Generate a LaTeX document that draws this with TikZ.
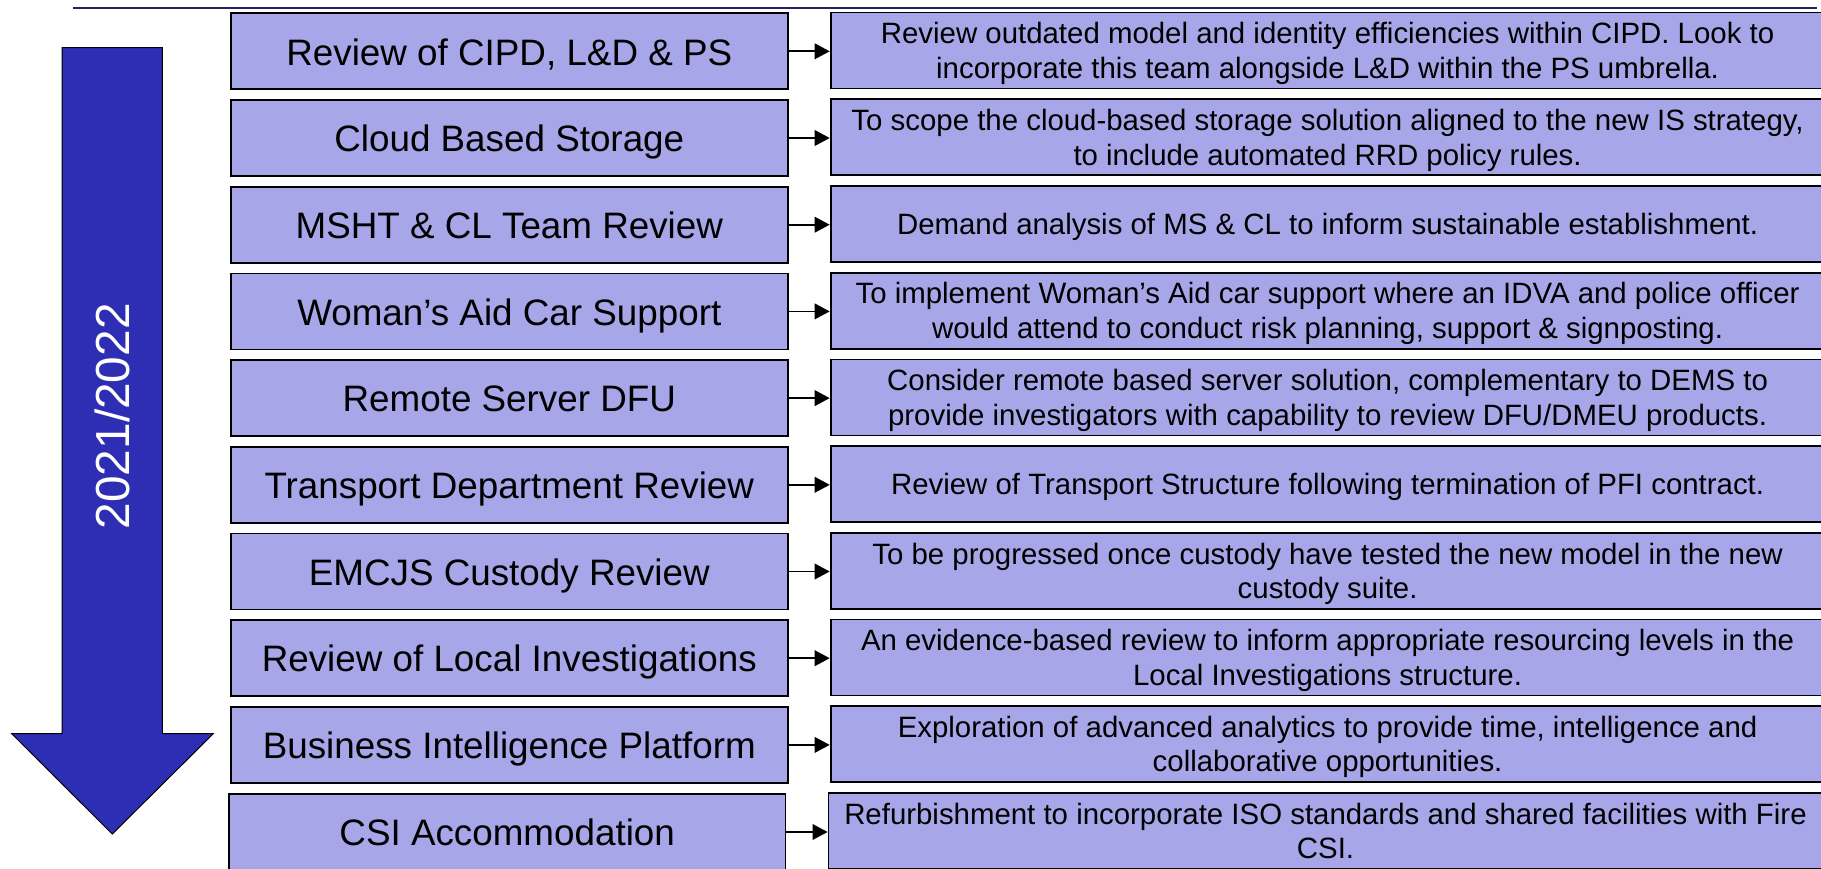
\documentclass[tikz,border=0pt]{standalone}
\usepackage{fontspec}
\setmainfont{Liberation Sans}
\usetikzlibrary{arrows.meta}
\definecolor{boxfill}{RGB}{166,166,232}
\definecolor{arrowblue}{RGB}{46,46,181}
\definecolor{rulecol}{RGB}{40,32,96}
\begin{document}
\begin{tikzpicture}[x=1pt,y=-1pt,
  lbox/.style={draw=black, line width=1.8pt, fill=boxfill, minimum width=556.6pt, minimum height=76pt, inner sep=0pt, text height=27.5pt, text depth=0pt, font=\fontsize{36.8}{44}\selectfont},
  rbox/.style={draw=black, line width=1.8pt, fill=boxfill, minimum width=994pt, minimum height=76pt, inner sep=0pt, align=center, text height=20.5pt, text depth=0pt, font=\fontsize{29.4}{34.5}\selectfont},
  rbox2/.style={rbox, text height=55.5pt, text depth=0pt},
  link/.style={draw=black, line width=1.7pt, -{Triangle[length=15pt,width=15.6pt]}},
  yeararrow/.style={draw=black, line width=1pt, fill=arrowblue},
  yearlabel/.style={text=white, rotate=90, inner sep=0pt, font=\fontsize{47.8}{56}\selectfont}
]
\useasboundingbox (0,0) rectangle (1821,869);
% top rule
\coordinate (ruleL) at (73,8.3);
\coordinate (ruleR) at (1817,8.3);
\draw[rulecol, line width=2pt] (ruleL) -- (ruleR);

% big downward arrow
\draw[yeararrow] (62,47.7) -- (162.3,47.7) -- (162.3,733.7) -- (213.3,733.7)
  -- (112.3,834) -- (11.7,733.7) -- (62,733.7) -- cycle;
\node[yearlabel] (year) at (112,416.3) {2021/2022};

% left boxes
\node[lbox] (l1)  at (509.3,51.3)  {Review of CIPD, L\&D \& PS};
\node[lbox] (l2)  at (509.3,138.0) {Cloud Based Storage};
\node[lbox] (l3)  at (509.3,224.7) {MSHT \& CL Team Review};
\node[lbox] (l4)  at (509.3,311.4) {Woman’s Aid Car Support};
\node[lbox] (l5)  at (509.3,398.1) {Remote Server DFU};
\node[lbox] (l6)  at (509.3,484.8) {Transport Department Review};
\node[lbox] (l7)  at (509.3,571.5) {EMCJS Custody Review};
\node[lbox] (l8)  at (509.3,658.2) {Review of Local Investigations};
\node[lbox] (l9)  at (509.3,744.9) {Business Intelligence Platform};
\node[lbox] (l10) at (507.2,832.0) {CSI Accommodation};

% right boxes
\node[rbox2] (r1)  at (1327.6,50.6)  {Review outdated model and identity efficiencies within CIPD. Look to\\incorporate this team alongside L\&D within the PS umbrella.};
\node[rbox2] (r2)  at (1327.6,137.3) {To scope the cloud-based storage solution aligned to the new IS strategy,\\to include automated RRD policy rules.};
\node[rbox]  (r3)  at (1327.6,224.0) {Demand analysis of MS \& CL to inform sustainable establishment.};
\node[rbox2] (r4)  at (1327.6,310.7) {To implement Woman’s Aid car support where an IDVA and police officer\\would attend to conduct risk planning, support \& signposting.};
\node[rbox2] (r5)  at (1327.6,397.4) {Consider remote based server solution, complementary to DEMS to\\provide investigators with capability to review DFU/DMEU products.};
\node[rbox]  (r6)  at (1327.6,484.1) {Review of Transport Structure following termination of PFI contract.};
\node[rbox2] (r7)  at (1327.6,570.8) {To be progressed once custody have tested the new model in the new\\custody suite.};
\node[rbox2] (r8)  at (1327.6,657.5) {An evidence-based review to inform appropriate resourcing levels in the\\Local Investigations structure.};
\node[rbox2] (r9)  at (1327.6,744.2) {Exploration of advanced analytics to provide time, intelligence and\\collaborative opportunities.};
\node[rbox2] (r10) at (1325.5,831.0) {Refurbishment to incorporate ISO standards and shared facilities with Fire\\CSI.};

% connectors
\foreach \i in {1,...,10}{
  \draw[link] (l\i.east) -- (l\i.east -| r\i.west);
}
\end{tikzpicture}
\end{document}
